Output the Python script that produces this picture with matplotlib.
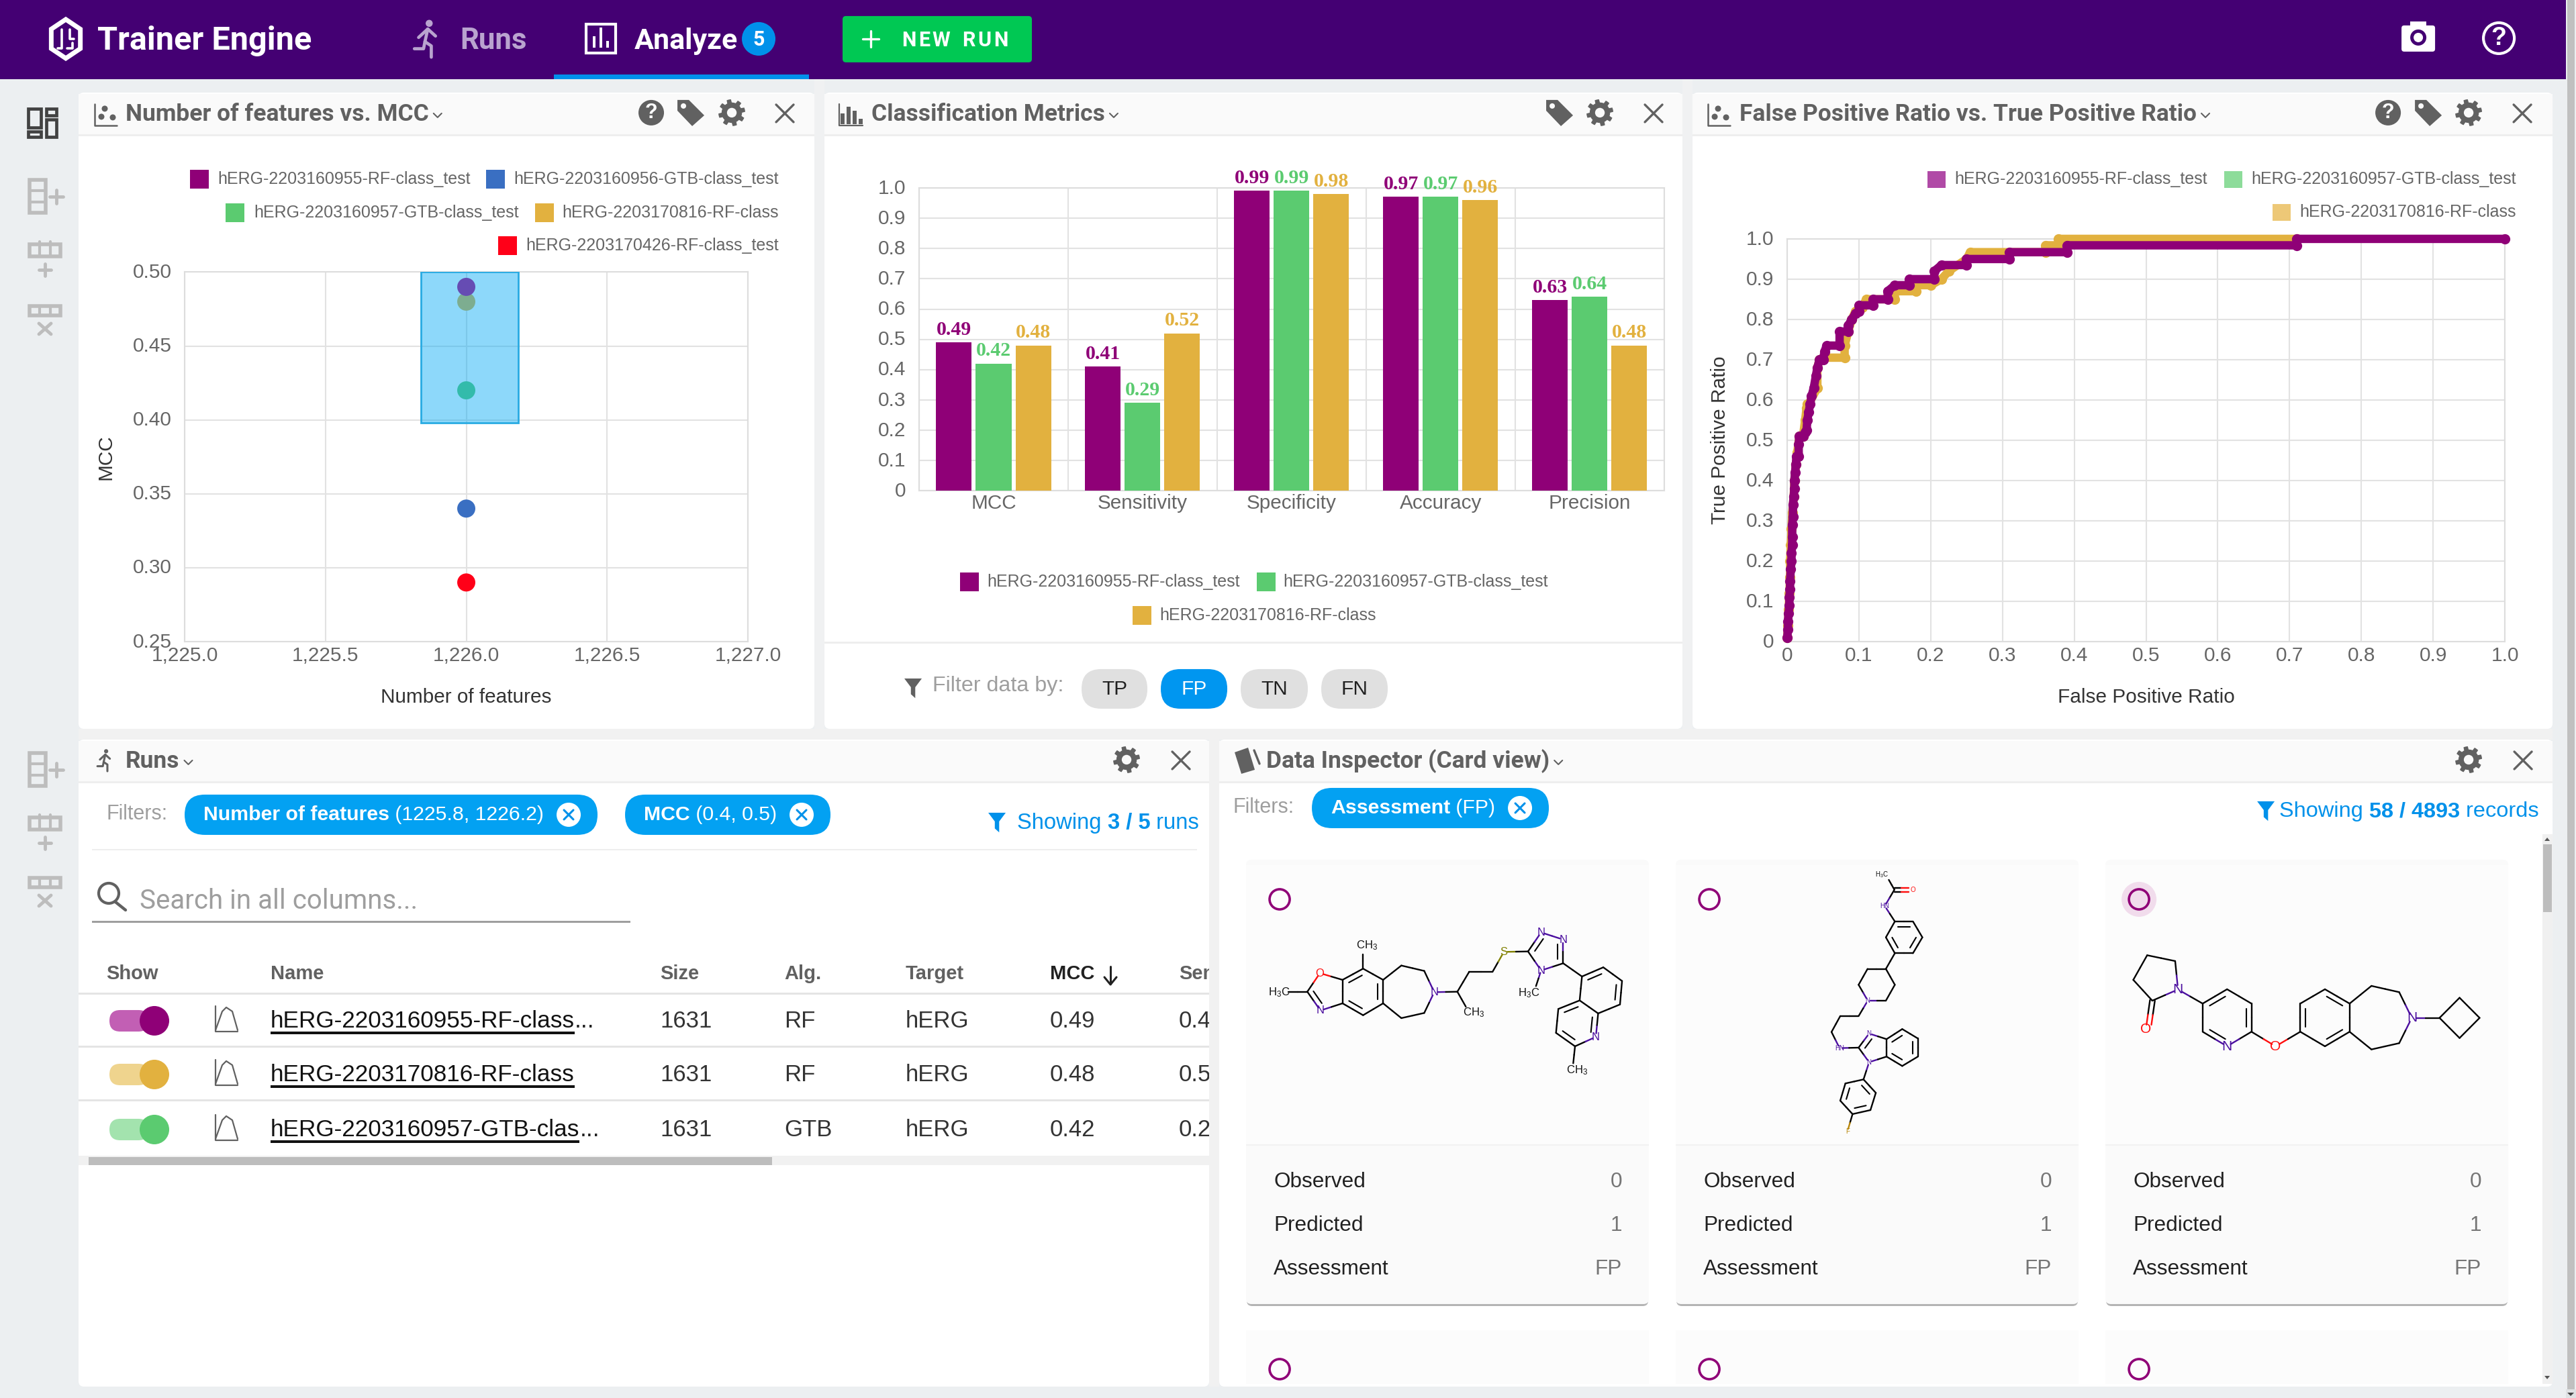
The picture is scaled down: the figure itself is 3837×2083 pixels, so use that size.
#!/usr/bin/env python3
import numpy as np
import matplotlib
matplotlib.use('Agg')
import matplotlib.pyplot as plt
from matplotlib.patches import Rectangle, FancyBboxPatch, Circle, Polygon
from matplotlib.transforms import ScaledTranslation

W, H = 3837, 2083
SANS = ['Liberation Sans', 'DejaVu Sans']
TITLE_FONT = ['Roboto', 'DejaVu Sans']
SERIF = ['Liberation Serif', 'DejaVu Serif']

PURPLE = '#8f0077'
BLUE = '#3a6fc2'
GREEN = '#5bcb70'
GOLD = '#e2b13f'
RED = '#ff0018'
SKY = '#0091ea'
ICON = '#616161'
SIDE_GREY = '#bdbdbd'

# --- data ---
RUN_955 = 'hERG-2203160955-RF-class_test'
RUN_956 = 'hERG-2203160956-GTB-class_test'
RUN_957 = 'hERG-2203160957-GTB-class_test'
RUN_816 = 'hERG-2203170816-RF-class'
RUN_426 = 'hERG-2203170426-RF-class_test'

scatter_x = [1226, 1226, 1226, 1226, 1226]
scatter_mcc = [0.48, 0.42, 0.34, 0.29, 0.49]
scatter_colors = [GOLD, GREEN, BLUE, RED, '#b8007f']
scatter_xticks = [1225.0, 1225.5, 1226.0, 1226.5, 1227.0]
scatter_yticks = [0.25, 0.30, 0.35, 0.40, 0.45, 0.50]
brush_x = [1225.84, 1226.185]
brush_y = [0.398, 0.50]

metrics = ['MCC', 'Sensitivity', 'Specificity', 'Accuracy', 'Precision']
metrics_955 = [0.49, 0.41, 0.99, 0.97, 0.63]
metrics_957 = [0.42, 0.29, 0.99, 0.97, 0.64]
metrics_816 = [0.48, 0.52, 0.98, 0.96, 0.48]
filter_pills = ['TP', 'FP', 'TN', 'FN']

roc_fpr_816 = [0, 0.001, 0.002, 0.003, 0.004, 0.004, 0.005, 0.006, 0.007, 0.009, 0.01, 0.012, 0.014, 0.017, 0.022,
               0.025, 0.027, 0.028, 0.03, 0.042, 0.042, 0.045, 0.05, 0.08, 0.08, 0.085, 0.09, 0.095, 0.105, 0.11,
               0.15, 0.15, 0.18, 0.18, 0.2, 0.215, 0.225, 0.25, 0.255, 0.36, 0.36, 0.378, 0.378, 0.71]
roc_tpr_816 = [0.01, 0.04, 0.08, 0.12, 0.16, 0.2, 0.24, 0.28, 0.32, 0.36, 0.4, 0.44, 0.47, 0.51, 0.51,
               0.55, 0.58, 0.59, 0.59, 0.63, 0.68, 0.7, 0.705, 0.705, 0.735, 0.77, 0.8, 0.82, 0.83, 0.85,
               0.85, 0.87, 0.87, 0.885, 0.885, 0.9, 0.92, 0.95, 0.967, 0.967, 0.984, 0.984, 1.0, 1.0]
roc_fpr_955 = [0, 0.001, 0.001, 0.002, 0.003, 0.003, 0.004, 0.004, 0.005, 0.006, 0.006, 0.007, 0.007, 0.007, 0.008,
               0.008, 0.009, 0.01, 0.01, 0.011, 0.012, 0.013, 0.016, 0.016, 0.017, 0.022, 0.025, 0.027, 0.028, 0.03,
               0.032, 0.034, 0.037, 0.04, 0.042, 0.045, 0.05, 0.052, 0.055, 0.073, 0.073, 0.085, 0.085, 0.09, 0.095,
               0.1, 0.1, 0.12, 0.12, 0.14, 0.14, 0.15, 0.17, 0.17, 0.205, 0.205, 0.215, 0.25, 0.25, 0.31, 0.31,
               0.39, 0.39, 0.71, 0.71, 1.0]
roc_tpr_955 = [0.01, 0.03, 0.05, 0.07, 0.09, 0.11, 0.13, 0.15, 0.18, 0.2, 0.22, 0.24, 0.26, 0.29, 0.31,
               0.34, 0.36, 0.38, 0.4, 0.42, 0.44, 0.46, 0.46, 0.49, 0.51, 0.51, 0.52, 0.525, 0.55, 0.57,
               0.59, 0.61, 0.63, 0.66, 0.68, 0.7, 0.7, 0.72, 0.735, 0.735, 0.77, 0.77, 0.785, 0.8, 0.815,
               0.82, 0.835, 0.835, 0.85, 0.85, 0.87, 0.885, 0.885, 0.9, 0.9, 0.92, 0.935, 0.935, 0.95, 0.95, 0.967,
               0.967, 0.984, 0.984, 1.0, 1.0]
roc_ticks = [0, 0.1, 0.2, 0.3, 0.4, 0.5, 0.6, 0.7, 0.8, 0.9, 1.0]

table_columns = ['Show', 'Name', 'Size', 'Alg.', 'Target', 'MCC', 'Sensitivity']
run_names = [('hERG-2203160955-RF-class', '...'), ('hERG-2203170816-RF-class', ''), ('hERG-2203160957-GTB-clas', '...')]
run_colors = [PURPLE, GOLD, GREEN]
run_track_colors = ['#c25fb4', '#efd48e', '#a3e3ae']
run_sizes = ['1631', '1631', '1631']
run_algs = ['RF', 'RF', 'GTB']
run_targets = ['hERG', 'hERG', 'hERG']
run_mcc = ['0.49', '0.48', '0.42']
run_sens = ['0.41', '0.52', '0.29']

card_fields = ['Observed', 'Predicted', 'Assessment']
card_values = ['0', '1', 'FP']

fig = plt.figure(figsize=((W + 0.1) / 100, (H + 0.1) / 100), dpi=100, facecolor='#eceff1')
ui = fig.add_axes([0, 0, 1, 1], zorder=0)
ui.set_xlim(0, W)
ui.set_ylim(H, 0)
ui.axis('off')
renderer = fig.canvas.get_renderer()


def rect(x0, y0, x1, y1, color, z=1, **kw):
    p = Rectangle((x0, y0), x1 - x0, y1 - y0, fc=color, ec='none', zorder=z, **kw)
    ui.add_patch(p)
    return p


def rrect(x0, y0, x1, y1, r, color, z=2, **kw):
    p = FancyBboxPatch((x0 + r, y0 + r), x1 - x0 - 2 * r, y1 - y0 - 2 * r,
                       boxstyle=f'round,pad={r},rounding_size={r}', fc=color, ec='none', zorder=z, **kw)
    ui.add_patch(p)
    return p


def txt(x, y, s, size, color='#212121', ha='left', weight='normal', family=SANS, z=6, **kw):
    return ui.text(x, y, s, fontsize=size, color=color, ha=ha, va='center', fontweight=weight,
                   family=family, zorder=z, **kw)


def run(x, y, parts, size, color, family=SANS, spacing=0):
    # テキストを太さ違いで続けて描く
    for s, weight in parts:
        t = txt(x, y, s, size, color, weight=weight, family=family)
        x = t.get_window_extent(renderer).x1 + spacing
    return x


def line(xs, ys, color, lw=2.0, z=5, **kw):
    ui.plot(xs, ys, color=color, lw=lw, zorder=z, solid_capstyle=kw.pop('cap', 'round'), **kw)


def circle(x, y, r, color, z=5, **kw):
    ui.add_patch(Circle((x, y), r, fc=color, ec=kw.pop('ec', 'none'), zorder=z, **kw))


def poly(x, y, pts, color, z=5):
    ui.add_patch(Polygon([(x + a, y + b) for a, b in pts], closed=True, fc=color, ec='none', zorder=z))


def gear(x, y, r=20, color=ICON, hole='#fafafa'):
    ang = np.linspace(0, 2 * np.pi, 96, endpoint=False)
    rad = r * np.where(((ang + np.pi / 8) % (np.pi / 4)) < np.pi / 8, 1.0, 0.76)
    poly(x, y, list(zip(rad * np.cos(ang), rad * np.sin(ang))), color)
    circle(x, y, r * 0.36, hole, z=6)


def tag(x, y):
    poly(x, y, [(-20, -19), (-3, -19), (20, 4), (2, 20), (-20, -3)], ICON)
    circle(x - 11, y - 10, 4, '#fafafa', z=6)


def help_icon(x, y):
    circle(x, y, 19, ICON)
    txt(x, y, '?', 22, 'white', ha='center', weight='bold')


def close_icon(x, y, s=13):
    line([x - s, x + s], [y - s, y + s], ICON, 2.4)
    line([x - s, x + s], [y + s, y - s], ICON, 2.4)


def chevron(x, y):
    line([x, x + 6, x + 12], [y - 3, y + 3, y - 3], ICON, 1.5)


def funnel(x, y, s, color):
    poly(x, y, [(-s, -s), (s, -s), (s * 0.25, 0), (s * 0.25, s * 1.25), (-s * 0.25, s * 0.8), (-s * 0.25, 0)], color)


def scatter_icon(x0, y0, x1, y1):
    line([x0, x0, x1], [y0, y1, y1], ICON, 1.8)
    circle(x0 + 15, y0 + 7, 4.5, ICON)
    circle(x0 + 10, y0 + 19, 4.5, ICON)
    circle(x0 + 27, y0 + 20, 4.5, ICON)


def runner(x, y, s, color, lw=3.0):
    circle(x + 5 * s, y - 22 * s, 5 * s, color)
    line([x + 3 * s, x - 1 * s, x - 3 * s, x - 16 * s], [y - 14 * s, y + 4 * s, y + 14 * s, y + 14 * s], color, lw)
    line([x - 1 * s, x + 8 * s, x + 8 * s], [y + 4 * s, y + 10 * s, y + 26 * s], color, lw)
    line([x - 10 * s, x + 3 * s, x + 14 * s], [y - 2 * s, y - 14 * s, y - 4 * s], color, lw)


def panel(x0, y0, x1, y1):
    rrect(x0, y0, x1, y1, 8, 'white', z=2)
    rect(x0, y0 + 2, x1, y0 + 62, '#fafafa', z=2)
    rect(x0, y0 + 62, x1, y0 + 65, '#eeeeee', z=2)


def swatch_row(items):
    # (swatch x, text x, y, label, color)
    for sx, tx, y, label, color in items:
        rect(sx, y - 14, sx + 28, y + 14, color, z=3)
        txt(tx, y, label, 18, '#666666')


def chart_axes(left, top, right, bottom):
    ax = fig.add_axes([left / W, 1 - bottom / H, (right - left) / W, (bottom - top) / H], zorder=3)
    ax.patch.set_alpha(0)
    for s in ax.spines.values():
        s.set_color('#dddddd')
        s.set_linewidth(1.5)
    ax.set_axisbelow(True)
    ax.grid(True, color='#e2e2e2', lw=1.5)
    ax.tick_params(length=0, labelsize=21.4, labelcolor='#666666')
    return ax


def style_ticks(ax):
    for lab in ax.get_xticklabels() + ax.get_yticklabels():
        lab.set_family(SANS)
    # 目盛ラベルを少し上へ
    up = ScaledTranslation(0, 2.5 / 100, fig.dpi_scale_trans)
    for lab in ax.get_yticklabels():
        lab.set_transform(lab.get_transform() + up)


def axis_labels(ax, xlabel, ylabel, left, top, right, bottom, x_px, y_px):
    ax.set_xlabel(xlabel, fontsize=21.4, color='#333333', family=SANS)
    ax.xaxis.set_label_coords(0.5, -(y_px - 15 - bottom) / (bottom - top))
    ax.set_ylabel(ylabel, fontsize=21.4, color='#333333', family=SANS)
    ax.yaxis.set_label_coords(-(left - x_px - 12) / (right - left), 0.5)


# --- page chrome ---
rect(1213, 118, 1228, 1102, '#f0f1f2', z=1)
rect(2506, 118, 2521, 1102, '#f0f1f2', z=1)
rect(117, 1086, 3802, 1102, '#f1f1f1', z=1)
rect(1801, 1102, 1816, 2066, '#f1f1f1', z=1)
rect(0, 0, 3822, 118, '#440073', z=3)
rect(825, 111, 1205, 118, SKY, z=4)

# logo
hexa = [(25 * np.sin(a), 29 * np.cos(a)) for a in np.linspace(0, 2 * np.pi, 6, endpoint=False)]
ui.add_patch(Polygon([(98 + a, 58 + b) for a, b in hexa], closed=True, fc='none', ec='white', lw=5, zorder=5))
line([92, 92, 86], [44, 72, 72], 'white', 2.6)
line([104, 104, 110], [44, 58, 58], 'white', 2.6)
line([100, 108, 108], [72, 72, 64], 'white', 2.6)
txt(145, 61, 'Trainer Engine', 35, 'white', weight='bold', family=TITLE_FONT)
runner(634, 58, 1.05, '#b9a3cf', 3.4)
txt(685, 61, 'Runs', 31.5, '#b9a3cf', weight='bold', family=TITLE_FONT)
ui.add_patch(Rectangle((873, 36), 44, 43, fc='none', ec='white', lw=3, zorder=5))
ui.bar([885, 895, 905], [17, 30, 10], width=4.5, bottom=[71 - 17, 71 - 30, 71 - 10], color='white', zorder=6)
txt(945, 61, 'Analyze', 31, 'white', weight='bold', family=TITLE_FONT)
circle(1130, 58, 25, SKY)
txt(1130, 59, '5', 22, 'white', ha='center', weight='bold', family=TITLE_FONT)
rrect(1255, 24, 1537, 93, 5, '#00c853', z=4)
line([1285, 1309], [58, 58], 'white', 2.4)
line([1297, 1297], [46, 70], 'white', 2.4)
run(1343, 60, [(c, 'bold') for c in 'NEW'], 22, 'white', family=TITLE_FONT, spacing=3.5)
run(1433, 60, [(c, 'bold') for c in 'RUN'], 22, 'white', family=TITLE_FONT, spacing=3.5)
rrect(3577, 38, 3627, 77, 4, 'white', z=5)
rect(3590, 32, 3614, 40, 'white', z=5)
circle(3602, 56, 12, '#440073', z=6)
circle(3602, 56, 7, 'white', z=7)
ui.add_patch(Circle((3722, 57), 23, fc='none', ec='white', lw=3, zorder=5))
txt(3722, 57, '?', 27, 'white', ha='center', weight='bold')

# outer scrollbar
rect(3824, 0, 3835, 2070, '#c0c0c0', z=1)
rect(3822, 2070, 3837, 2083, '#dfe2e4', z=1)
poly(3829, 2075, [(-5, 0), (5, 0), (0, 5)], '#424242')

# sidebar
for (a, b, c, d) in [(42, 162, 61, 190), (69, 162, 84, 172), (42, 196, 61, 204), (69, 178, 84, 204)]:
    ui.add_patch(Rectangle((a, b), c - a, d - b, fc='none', ec='#424242', lw=3.4, zorder=4))


def side_icons(y0, y1, y2):
    ui.add_patch(Rectangle((44, y0), 24, 49, fc='none', ec=SIDE_GREY, lw=4, zorder=4))
    line([44, 68], [y0 + 16, y0 + 16], SIDE_GREY, 3)
    line([44, 68], [y0 + 33, y0 + 33], SIDE_GREY, 3)
    line([74, 94], [y0 + 25, y0 + 25], SIDE_GREY, 3.5)
    line([84, 84], [y0 + 15, y0 + 35], SIDE_GREY, 3.5)
    ui.add_patch(Rectangle((44, y1), 46, 18, fc='none', ec=SIDE_GREY, lw=4, zorder=4))
    for xv in (59, 75):
        line([xv, xv], [y1 - 4, y1 + 18], SIDE_GREY, 3)
    line([58, 76], [y1 + 38, y1 + 38], SIDE_GREY, 3.5)
    line([67, 67], [y1 + 29, y1 + 47], SIDE_GREY, 3.5)
    ui.add_patch(Rectangle((44, y2), 46, 14, fc='none', ec=SIDE_GREY, lw=4, zorder=4))
    for xv in (59, 75):
        line([xv, xv], [y2, y2 + 14], SIDE_GREY, 3)
    line([58, 76], [y2 + 26, y2 + 42], SIDE_GREY, 3.5)
    line([58, 76], [y2 + 42, y2 + 26], SIDE_GREY, 3.5)


side_icons(268, 364, 456)
side_icons(1122, 1218, 1308)

# --- panel 1: scatter ---
panel(117, 138, 1213, 1086)
scatter_icon(141, 155, 174, 187)
end = run(187, 170, [('Number of features vs. MCC', 'bold')], 25.5, ICON, family=TITLE_FONT)
chevron(end + 7, 172)
help_icon(970, 168)
tag(1029, 168)
gear(1090, 168)
close_icon(1169, 169)
swatch_row([(283, 324, 267, RUN_955, PURPLE), (724, 765, 267, RUN_956, BLUE),
            (336, 378, 317, RUN_957, GREEN), (797, 837, 317, RUN_816, GOLD),
            (742, 783, 366, RUN_426, RED)])

box = (275, 405.5, 1114, 956)
ax1 = chart_axes(*box)
ax1.scatter(scatter_x, scatter_mcc, s=377, c=scatter_colors, zorder=3, linewidths=0, clip_on=False)
ax1.add_patch(Rectangle((brush_x[0], brush_y[0]), brush_x[1] - brush_x[0], brush_y[1] - brush_y[0],
                        fc='#03a9f4', alpha=0.45, ec='none', zorder=4))
ax1.add_patch(Rectangle((brush_x[0], brush_y[0]), brush_x[1] - brush_x[0], brush_y[1] - brush_y[0],
                        fc='none', ec='#29abe2', lw=2, zorder=5))
ax1.set_xlim(1225, 1227)
ax1.set_ylim(0.25, 0.50)
ax1.set_xticks(scatter_xticks)
ax1.set_xticklabels([f'{v:,.1f}' for v in scatter_xticks])
ax1.set_yticks(scatter_yticks)
ax1.set_yticklabels([f'{v:.2f}' for v in scatter_yticks])
ax1.tick_params(axis='x', pad=5)
ax1.tick_params(axis='y', pad=14)
style_ticks(ax1)
axis_labels(ax1, 'Number of features', 'MCC', *box, 159, 1040)

# --- panel 2: bars ---
panel(1228, 138, 2506, 1086)
for i, hgt in enumerate([16, 26, 20, 8]):
    rect(1252 + i * 9, 185 - hgt, 1258 + i * 9, 185, ICON, z=5)
line([1250, 1250, 1285], [155, 187, 187], ICON, 1.6)
end = run(1298, 170, [('Classification Metrics', 'bold')], 25.5, ICON, family=TITLE_FONT)
chevron(end + 7, 172)
tag(2323, 168)
gear(2383, 168)
close_icon(2463, 169)

box = (1369, 280, 2478.6, 731.5)
ax2 = chart_axes(*box)
xpos = np.arange(len(metrics)) + 0.5
bar_w = 0.239
for off, vals, color in [(-0.266, metrics_955, PURPLE), (0, metrics_957, GREEN), (0.266, metrics_816, GOLD)]:
    bars = ax2.bar(xpos + off, vals, width=bar_w, color=color, zorder=3)
    for b, v in zip(bars, vals):
        ax2.text(b.get_x() + b.get_width() / 2, v + 0.012, f'{v:.2f}', ha='center', va='bottom',
                 fontsize=21.5, fontweight='bold', color=color, family=SERIF, zorder=4)
ax2.set_xlim(0, 5)
ax2.set_ylim(0, 1)
ax2.set_xticks(xpos)
ax2.set_xticklabels(metrics)
ax2.set_xticks(range(6), minor=True)
ax2.set_yticks(np.arange(11) / 10)
ax2.set_yticklabels(['0'] + [f'{v / 10:.1f}' for v in range(1, 11)])
ax2.grid(False, axis='x')
ax2.grid(True, axis='x', which='minor', color='#e2e2e2', lw=1.5)
ax2.tick_params(which='minor', length=0)
ax2.tick_params(axis='x', pad=3)
ax2.tick_params(axis='y', pad=14)
style_ticks(ax2)

rect(1430, 853, 1458, 881, PURPLE, z=3)
txt(1470, 867, RUN_955, 18, '#666666')
rect(1872, 853, 1900, 881, GREEN, z=3)
txt(1911, 867, RUN_957, 18, '#666666')
rect(1687, 903, 1715, 931, GOLD, z=3)
txt(1727, 917, RUN_816, 18, '#666666')
rect(1228, 956, 2506, 959, '#eeeeee', z=3)
funnel(1360, 1024, 13, ICON)
txt(1389, 1022, 'Filter data by:', 23.2, '#9e9e9e')
for label, (a, b) in zip(filter_pills, [(1611, 1709), (1729, 1828), (1848, 1948), (1968, 2067)]):
    active = label == 'FP'
    rrect(a, 997, b, 1056, 29, '#0096f0' if active else '#e0e0e0', z=4)
    txt((a + b) / 2, 1027, label, 21.5, 'white' if active else '#212121', ha='center')

# --- panel 3: ROC ---
panel(2521, 138, 3802, 1086)
scatter_icon(2544, 155, 2577, 187)
end = run(2591, 170, [('False Positive Ratio vs. True Positive Ratio', 'bold')], 25.5, ICON, family=TITLE_FONT)
chevron(end + 7, 172)
help_icon(3557, 168)
tag(3617, 168)
gear(3677, 168)
close_icon(3757, 169)
for sx, tx, y, label, color in [(2871, 2911, 267, RUN_955, '#b04aa6'), (3313, 3353, 267, RUN_957, '#8ddc9a'),
                                (3385, 3425, 316, RUN_816, '#edc877')]:
    rect(sx, y - 12, sx + 27, y + 13, color, z=3)
    txt(tx, y, label, 18, '#666666')

box = (2662, 356, 3731, 956)
ax3 = chart_axes(*box)
ax3.plot(roc_fpr_816, roc_tpr_816, color=GOLD, lw=9, marker='o', ms=11, mew=0, solid_capstyle='round',
         solid_joinstyle='round', clip_on=False, zorder=3)
ax3.plot(roc_fpr_955, roc_tpr_955, color=PURPLE, lw=9, marker='o', ms=11, mew=0, solid_capstyle='round',
         solid_joinstyle='round', clip_on=False, zorder=4)
ax3.set_xlim(0, 1)
ax3.set_ylim(0, 1)
tick_text = ['0'] + [f'{v:.1f}' for v in roc_ticks[1:]]
ax3.set_xticks(roc_ticks)
ax3.set_xticklabels(tick_text)
ax3.set_yticks(roc_ticks)
ax3.set_yticklabels(tick_text)
ax3.tick_params(axis='x', pad=5)
ax3.tick_params(axis='y', pad=14)
style_ticks(ax3)
axis_labels(ax3, 'False Positive Ratio', 'True Positive Ratio', *box, 2564, 1040)

# --- panel 4: runs table ---
panel(117, 1102, 1801, 2066)
runner(155, 1133, 0.62, ICON, 2.2)
end = run(187, 1134, [('Runs', 'bold')], 25.5, ICON, family=TITLE_FONT)
chevron(end + 7, 1136)
gear(1678, 1132)
close_icon(1759, 1133)
txt(158, 1213, 'Filters:', 22, '#9e9e9e')


def chip(x0, x1, y0, y1, parts, size=21.8):
    rrect(x0, y0, x1, y1, (y1 - y0) / 2, '#03a1f2', z=3)
    run(x0 + 28, (y0 + y1) / 2, parts, size, 'white')
    cx = x1 - 43
    cy = (y0 + y1) / 2
    circle(cx, cy, 18, 'white', z=5)
    line([cx - 7, cx + 7], [cy - 7, cy + 7], '#0091ea', 2.2, z=6)
    line([cx - 7, cx + 7], [cy + 7, cy - 7], '#0091ea', 2.2, z=6)


chip(275, 890, 1184, 1244, [('Number of features', 'bold'), (' (1225.8, 1226.2)', 'normal')])
chip(931, 1237, 1184, 1244, [('MCC', 'bold'), (' (0.4, 0.5)', 'normal')])
funnel(1485, 1224, 13, SKY)
run(1515, 1226, [('Showing ', 'normal'), ('3 / 5', 'bold'), (' runs', 'normal')], 23.6, SKY)
rect(137, 1265, 1783, 1267, '#eeeeee', z=3)

ui.add_patch(Circle((162, 1331), 15, fc='none', ec=ICON, lw=3, zorder=5))
line([172, 187], [1344, 1356], ICON, 3.2)
txt(208, 1342, 'Search in all columns...', 29, '#9e9e9e', family=TITLE_FONT)
rect(137, 1372, 939, 1375, '#9e9e9e', z=3)

table_clip = rect(117, 1400, 1801, 1740, 'white', z=2)
col_x = [158, 403, 983, 1168, 1349, 1564, 1756]
for name, x in zip(table_columns, col_x):
    t = txt(x, 1451, name, 21, '#212121' if name == 'MCC' else ICON, weight='bold')
    t.set_clip_on(True)
    t.set_clip_path(table_clip)
line([1654, 1654], [1440, 1466], '#212121', 2.2)
line([1645, 1654, 1663], [1456, 1467, 1456], '#212121', 2.2)
for y in (1481, 1560, 1640):
    rect(117, y - 1.5, 1801, y + 1.5, '#e4e4e4', z=3)

for i, y in enumerate([1521, 1601, 1683]):
    rrect(163, y - 16, 222, y + 16, 16, run_track_colors[i], z=4)
    circle(230, y, 22, run_colors[i], z=5)
    line([321, 321, 354], [y - 22, y + 16, y + 16], ICON, 1.6)
    line([321, 331, 337, 346, 354], [y + 14, y - 14, y - 20, y - 14, y + 14], ICON, 1.6)
    name, tail = run_names[i]
    end_name = run(403, y, [(name, 'normal')], 25.3, '#111111')
    rect(403, y + 16, end_name, y + 20, '#111111', z=6)
    if tail:
        txt(end_name, y, tail, 25.3, '#212121')
    for x, vals in zip(col_x[2:], [run_sizes, run_algs, run_targets, run_mcc, run_sens]):
        t = txt(x, y, vals[i], 25, '#333333')
        t.set_clip_on(True)
        t.set_clip_path(table_clip)

rect(117, 1722, 1801, 1736, '#f1f1f1', z=3)
rect(132, 1724, 1150, 1736, '#bdbdbd', z=4)

# --- panel 5: data inspector ---
panel(1816, 1102, 3802, 2066)
poly(1855, 1133, [(-16, -12), (4, -19), (14, 14), (-6, 20)], ICON)
line([1868, 1876], [1118, 1138], ICON, 2.4)
end = run(1886, 1134, [('Data Inspector (Card view)', 'bold')], 25.5, ICON, family=TITLE_FONT)
chevron(end + 7, 1136)
gear(3677, 1132)
close_icon(3758, 1133)
txt(1836, 1203, 'Filters:', 22, '#9e9e9e')
chip(1954, 2307, 1174, 1234, [('Assessment', 'bold'), (' (FP)', 'normal')])
funnel(3375, 1207, 13, SKY)
run(3395, 1209, [('Showing ', 'normal'), ('58 / 4893', 'bold'), (' records', 'normal')], 23.4, SKY)

rect(3787, 1243, 3802, 2062, '#f0f0f0', z=3)
rect(3788, 1258, 3801, 1359, '#bdbdbd', z=4)
poly(3794, 1249, [(-4, 4), (4, 4), (0, -1)], '#555555')
poly(3794, 2051, [(-4, -1), (4, -1), (0, 4)], '#555555')

card_x = [(1856, 2456), (2496, 3096), (3136, 3736)]
for idx, (a, b) in enumerate(card_x):
    rrect(a + 1, 1284, b - 1, 1946, 8, '#b4b4b4', z=3)
    rrect(a, 1281, b, 1943, 8, '#fafafa', z=3)
    rect(a, 1289, b, 1705, '#fcfcfc', z=3)
    rect(a, 1705, b, 1707, '#f1f1f1', z=3)
    for fld, val, y in zip(card_fields, card_values, [1761, 1826, 1891]):
        txt(a + 41, y, fld, 22.7, '#212121')
        txt(b - 40, y, val, 22.7, '#757575', ha='right')
    rect(a, 1982, b, 2062, '#fcfcfc', z=3)
    if idx == 2:
        circle(a + 50, 1340, 26, '#f1dcec', z=4)
    for cy in (1340, 2040):
        ui.add_patch(Circle((a + 50, cy), 15, fc='none', ec=PURPLE, lw=2.6, zorder=5))

HET_N = '#4b0e9f'
HET_O = '#ff0d0d'
HET_S = '#808000'
HET_F = '#b8860b'


def draw_molecule(x0, y0, sx, sy, paths, hetero, doubles, extra, size):
    def to_px(p):
        return x0 + p[0] * sx, y0 + p[1] * sy

    def bond(p, q):
        (ax_, ay_), (bx_, by_) = to_px(p), to_px(q)
        mx, my = (ax_ + bx_) / 2, (ay_ + by_) / 2
        for (sx_, sy_), pt in (((ax_, ay_), p), ((bx_, by_), q)):
            color = '#000000'
            if pt in hetero:
                color = hetero[pt][1]
                gap = 0.3
                sx_, sy_ = sx_ + (mx - sx_) * gap, sy_ + (my - sy_) * gap
            line([sx_, mx], [sy_, my], color, 1.7, z=5)

    for path in paths:
        for p, q in zip(path[:-1], path[1:]):
            bond(p, q)
    for p, q, c in doubles:
        ax_, ay_ = to_px(p)
        bx_, by_ = to_px(q)
        cx, cy = to_px(c)
        mx, my = (ax_ + bx_) / 2, (ay_ + by_) / 2
        dx, dy = cx - mx, cy - my
        d = np.hypot(dx, dy)
        ox, oy = dx / d * 8, dy / d * 8
        a2 = (ax_ + (bx_ - ax_) * 0.18 + ox, ay_ + (by_ - ay_) * 0.18 + oy)
        b2 = (ax_ + (bx_ - ax_) * 0.82 + ox, ay_ + (by_ - ay_) * 0.82 + oy)
        line([a2[0], b2[0]], [a2[1], b2[1]], '#000000', 1.5, z=5)
    for pt, (label, color) in hetero.items():
        px_, py_ = to_px(pt)
        if label:
            txt(px_, py_, label, size, color, ha='center')
    for pt, label in extra:
        px_, py_ = to_px(pt)
        txt(px_, py_, label, size, '#111111', ha='center')


CH3 = r'$\mathregular{CH_3}$'
H3C = r'$\mathregular{H_3C}$'

draw_molecule(
    1860, 1340, 600 / 1568, 1 / 3,
    [[(155, 413), (228, 413)], [(228, 413), (277, 330), (365, 360)], [(228, 413), (279, 497), (365, 465)],
     [(365, 360), (445, 310), (523, 360), (523, 465), (445, 518), (365, 465), (365, 360)], [(445, 310), (445, 245)],
     [(523, 360), (594, 296), (683, 320), (722, 415), (683, 508), (594, 531), (523, 465)],
     [(722, 415), (812, 413), (845, 480)], [(812, 413), (858, 324), (949, 324), (993, 235), (1087, 233)],
     [(1087, 233), (1138, 148), (1224, 180), (1224, 286), (1138, 318), (1087, 233)], [(1138, 318), (1118, 388)],
     [(1224, 286), (1297, 345)],
     [(1297, 345), (1380, 304), (1453, 365), (1445, 470), (1360, 510), (1288, 452), (1297, 345)],
     [(1288, 452), (1205, 490), (1196, 597), (1270, 657), (1351, 615), (1360, 510)], [(1270, 657), (1263, 733)]],
    {(277, 330): ('O', HET_O), (279, 497): ('N', HET_N), (722, 415): ('N', HET_N), (993, 235): ('S', HET_S),
     (1138, 148): ('N', HET_N), (1224, 180): ('N', HET_N), (1138, 318): ('N', HET_N), (1351, 615): ('N', HET_N)},
    [((228, 413), (279, 497), (300, 400)), ((365, 360), (445, 310), (445, 415)), ((523, 360), (523, 465), (445, 415)),
     ((445, 518), (365, 465), (445, 415)), ((1087, 233), (1138, 148), (1170, 235)),
     ((1224, 180), (1224, 286), (1170, 235)), ((1297, 345), (1380, 304), (1370, 410)),
     ((1453, 365), (1445, 470), (1370, 410)), ((1288, 452), (1205, 490), (1280, 555)),
     ((1196, 597), (1270, 657), (1280, 555)), ((1351, 615), (1360, 510), (1280, 555))],
    [((117, 415), H3C), ((460, 205), CH3), ((875, 505), CH3), ((1090, 418), H3C), ((1277, 763), CH3)],
    12)

draw_molecule(
    2660, 1285, 1 / 3, 1 / 3,
    [[(460, 78), (485, 122)], [(485, 122), (442, 195), (487, 264)],
     [(487, 264), (568, 264), (610, 335), (568, 406), (487, 406), (447, 335), (487, 264)], [(487, 406), (447, 476)],
     [(447, 476), (365, 476), (325, 547), (366, 618), (447, 618), (487, 547), (447, 476)],
     [(366, 618), (325, 687), (243, 687), (204, 758), (240, 830), (325, 828)],
     [(325, 828), (372, 765), (450, 790)], [(325, 828), (372, 893), (450, 868)],
     [(450, 790), (450, 868), (520, 910), (590, 868), (590, 787), (520, 745), (450, 790)],
     [(372, 893), (347, 970)],
     [(347, 970), (266, 988), (243, 1065), (298, 1125), (378, 1107), (402, 1030), (347, 970)],
     [(298, 1125), (275, 1203)]],
    {(442, 195): ('HN', HET_N), (366, 618): ('N', HET_N), (240, 830): ('HN', HET_N), (372, 765): ('N', HET_N),
     (372, 893): ('N', HET_N), (275, 1203): ('F', HET_F)},
    [((487, 264), (568, 264), (528, 335)), ((610, 335), (568, 406), (528, 335)), ((487, 406), (447, 335), (528, 335)),
     ((325, 828), (372, 765), (400, 830)), ((450, 790), (520, 745), (520, 828)), ((590, 868), (590, 787), (520, 828)),
     ((520, 910), (450, 868), (520, 828)), ((347, 970), (402, 1030), (322, 1047)),
     ((266, 988), (243, 1065), (322, 1047)), ((298, 1125), (378, 1107), (322, 1047))],
    [((428, 55), H3C)],
    7)
line([2822, 2832], [1323, 1323], '#000000', 1.7)
line([2822, 2832], [1329, 1329], '#000000', 1.7)
line([2832, 2843], [1323, 1323], HET_O, 1.7)
line([2832, 2843], [1329, 1329], HET_O, 1.7)
txt(2849, 1326, 'O', 7, HET_O, ha='center')

draw_molecule(
    3140, 1390, 600 / 1568, 1 / 3,
    [[(152, 100), (261, 126), (272, 253), (172, 303), (98, 210), (152, 100)], [(272, 253), (368, 316)],
     [(368, 316), (463, 252), (558, 316), (558, 442), (463, 507), (368, 442), (368, 316)],
     [(558, 442), (652, 507), (748, 442)],
     [(748, 442), (748, 316), (844, 252), (940, 316), (940, 442), (844, 507), (748, 442)],
     [(940, 316), (1025, 237), (1133, 265), (1182, 380), (1133, 493), (1025, 521), (940, 442)],
     [(1182, 380), (1290, 380)], [(1290, 380), (1368, 290), (1446, 380), (1368, 470), (1290, 380)],
     [(163, 300), (147, 430)], [(182, 303), (166, 430)]],
    {(272, 253): ('N', HET_N), (463, 507): ('N', HET_N), (652, 507): ('O', HET_O), (1182, 380): ('N', HET_N),
     (147, 430): ('O', HET_O), (166, 430): ('', HET_O)},
    [((368, 316), (463, 252), (463, 380)), ((558, 316), (558, 442), (463, 380)), ((463, 507), (368, 442), (463, 380)),
     ((748, 442), (748, 316), (844, 380)), ((844, 252), (940, 316), (844, 380)), ((940, 442), (844, 507), (844, 380))],
    [],
    15)

fig.savefig('out.png', dpi=100, facecolor=fig.get_facecolor())
